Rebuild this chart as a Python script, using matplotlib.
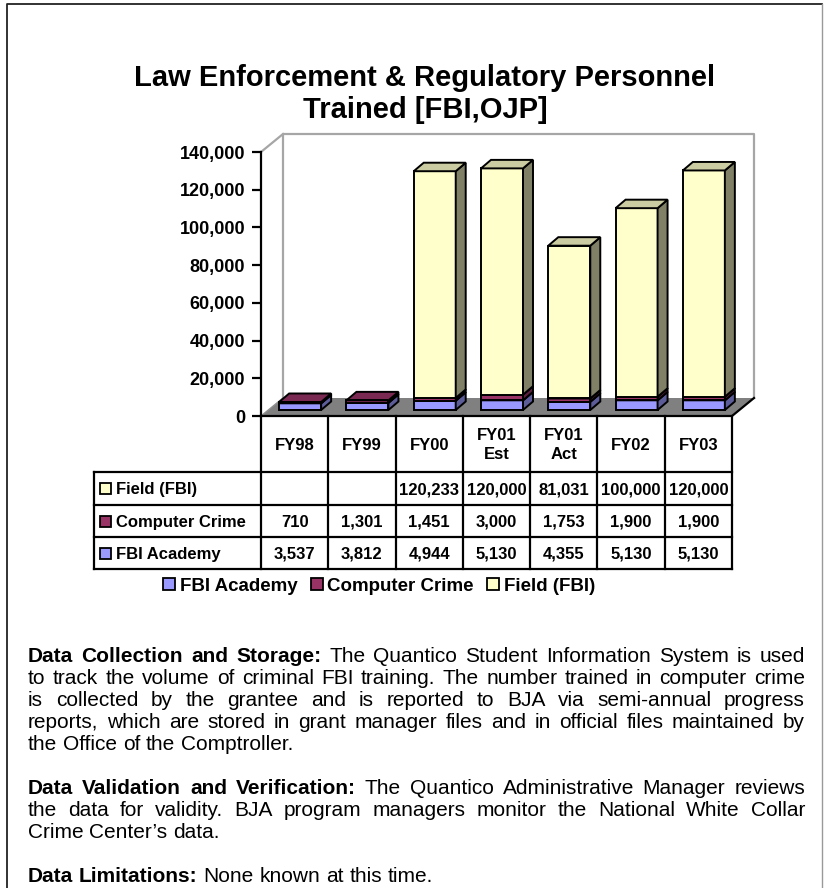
import matplotlib
matplotlib.use("Agg")
import matplotlib.pyplot as plt
import matplotlib.transforms as mtransforms
from matplotlib.patches import Polygon, Rectangle, Patch
from matplotlib.lines import Line2D

plt.rcParams['font.family'] = ['Liberation Sans', 'DejaVu Sans']

# ---------------- data ----------------
categories = ["FY98", "FY99", "FY00", "FY01\nEst", "FY01\nAct", "FY02", "FY03"]
fbi_academy = [3537, 3812, 4944, 5130, 4355, 5130, 5130]
computer_crime = [710, 1301, 1451, 3000, 1753, 1900, 1900]
field_fbi = [None, None, 120233, 120000, 81031, 100000, 120000]
series_names = ["FBI Academy", "Computer Crime", "Field (FBI)"]
y_ticks = [0, 20000, 40000, 60000, 80000, 100000, 120000, 140000]
title = "Law Enforcement & Regulatory Personnel\nTrained [FBI,OJP]"

para_lines = [
    [("Data Collection and Storage:", "The Quantico Student Information System is used"),
     ("", "to track the volume of criminal FBI training. The number trained in computer crime"),
     ("", "is collected by the grantee and is reported to BJA via semi-annual progress"),
     ("", "reports, which are stored in grant manager files and in official files maintained by"),
     ("", "the Office of the Comptroller.")],
    [("Data Validation and Verification:", "The Quantico Administrative Manager reviews"),
     ("", "the data for validity. BJA program managers monitor the National White Collar"),
     ("", "Crime Center\u2019s data.")],
    [("Data Limitations:", "None known at this time.")],
]

# ---------------- styles ----------------
front_colors = ["#9999FF", "#993366", "#FFFFCC"]
side_colors = ["#5C5C99", "#5C1F3D", "#808066"]
top_colors = ["#7A7ACC", "#7A2952", "#CCCCA3"]

W, H = 825, 888
fig = plt.figure(figsize=(W / 100, H / 100), dpi=100)
fig.patch.set_facecolor("white")
pix = mtransforms.Affine2D().scale(1.0 / W, -1.0 / H).translate(0, 1) + fig.transFigure

# front plane of the plot area in pixels
AX_L, AX_R, AX_T, AX_B = 261, 732, 152, 416
ax = fig.add_axes([AX_L / W, 1 - AX_B / H, (AX_R - AX_L) / W, (AX_B - AX_T) / H])
n = len(categories)
ax.set_xlim(-0.5, n - 0.5)
ax.set_ylim(0, y_ticks[-1])
ax.patch.set_alpha(0)
for s in ["top", "right", "bottom"]:
    ax.spines[s].set_visible(False)
ax.spines["left"].set_linewidth(1.6)
ax.spines["left"].set_zorder(20)
ax.set_xticks([])
ax.set_yticks(y_ticks)
ax.set_yticklabels([f"{v:,}" for v in y_ticks], fontsize=13, fontweight="bold")
ax.tick_params(axis="y", direction="out", length=6.5, width=1.6, pad=5)

cat_px = (AX_R - AX_L) / n
val_px = (AX_B - AX_T) / y_ticks[-1]
def dxd(p):
    return p / cat_px
def dyd(p):
    return p / val_px

# walls / floor
FDX, FDY = dxd(22), dyd(18)
ymax = y_ticks[-1]
wall_c = "#A6A6A6"
ax.add_patch(Polygon([(-0.5, 0), (n - 0.5, 0), (n - 0.5 + FDX, FDY), (-0.5 + FDX, FDY)],
                     closed=True, facecolor="#808080", edgecolor="none", clip_on=False, zorder=1))
ax.plot([-0.5 + FDX, -0.5 + FDX, n - 0.5 + FDX, n - 0.5 + FDX],
        [FDY, ymax + FDY, ymax + FDY, FDY], color=wall_c, lw=1.6, clip_on=False, zorder=0.5)
ax.plot([-0.5, -0.5 + FDX], [ymax, ymax + FDY], color=wall_c, lw=1.6, clip_on=False, zorder=0.5)
ax.plot([-0.5, -0.5 + FDX], [0, FDY], color="#909090", lw=1.0, clip_on=False, zorder=1.2)
ax.plot([-0.5, n - 0.5, n - 0.5 + FDX], [0, 0, FDY], color="black", lw=1.6,
        clip_on=False, zorder=1.5, solid_joinstyle="miter")

# bars
BW = dxd(42)
BOFF = dxd(5.5)
BASE = dyd(6)
BDX, BDY = dxd(10), dyd(8.5)
series_vals = [fbi_academy, computer_crime, field_fbi]
cum = [BASE] * n
xs = [i + BOFF for i in range(n)]
for si, vals in enumerate(series_vals):
    v = [0 if x is None else x for x in vals]
    z = 5 + si
    ax.bar(xs, v, bottom=cum, width=BW, color=front_colors[si], edgecolor="black",
           linewidth=1.4, zorder=z, clip_on=False)
    for i in range(n):
        if v[i] == 0:
            continue
        x0 = xs[i] - BW / 2
        x1 = xs[i] + BW / 2
        y0 = cum[i]
        y1 = cum[i] + v[i]
        ax.add_patch(Polygon([(x1, y0), (x1 + BDX, y0 + BDY), (x1 + BDX, y1 + BDY), (x1, y1)],
                             closed=True, facecolor=side_colors[si], edgecolor="black",
                             lw=1.4, zorder=z, clip_on=False, joinstyle="miter"))
        ax.add_patch(Polygon([(x0, y1), (x1, y1), (x1 + BDX, y1 + BDY), (x0 + BDX, y1 + BDY)],
                             closed=True, facecolor=top_colors[si], edgecolor="black",
                             lw=1.4, zorder=z, clip_on=False, joinstyle="miter"))
    cum = [c + a for c, a in zip(cum, v)]

# ---------------- data table ----------------
bx = mtransforms.blended_transform_factory(ax.transData, pix)
HDR_T, HDR_B = AX_B, 472
row_edges = [472, 505, 537, 569]
TBL_L = 94
tlw = 1.6
for i in range(n + 1):
    fig.add_artist(Line2D([i - 0.5, i - 0.5], [HDR_T, row_edges[-1]], transform=bx,
                          color="black", lw=tlw))
for y in row_edges:
    fig.add_artist(Line2D([TBL_L, AX_R], [y, y], transform=pix, color="black", lw=tlw))
fig.add_artist(Line2D([TBL_L, TBL_L], [row_edges[0], row_edges[-1]], transform=pix,
                      color="black", lw=tlw))
for i, c in enumerate(categories):
    fig.text(i, (HDR_T + HDR_B) / 2 + 1, c, transform=bx, ha="center", va="center",
             fontsize=12, fontweight="bold", linespacing=1.3)
table_rows = [(2, field_fbi), (1, computer_crime), (0, fbi_academy)]
for r, (si, vals) in enumerate(table_rows):
    yc = (row_edges[r] + row_edges[r + 1]) / 2
    fig.add_artist(Rectangle((100, yc - 5.5), 11, 11, transform=pix,
                             facecolor=front_colors[si], edgecolor="black", lw=1.3))
    fig.text(116, yc + 1, series_names[si], transform=pix, ha="left", va="center",
             fontsize=12, fontweight="bold")
    for i, v in enumerate(vals):
        if v is None:
            continue
        fig.text(i, yc + 1, f"{v:,}", transform=bx, ha="center", va="center",
                 fontsize=12, fontweight="bold")

# legend
handles = [Patch(facecolor=front_colors[i], edgecolor="black", lw=1.3) for i in range(3)]
fig.legend(handles, series_names, loc="center", bbox_to_anchor=(379 / W, 1 - 586 / H),
           ncol=3, frameon=False, prop={"size": 13.5, "weight": "bold"},
           handlelength=0.65, handleheight=0.65, handletextpad=0.25, columnspacing=0.7)

# title
fig.text(425, 94, title, transform=pix, ha="center", va="center", fontsize=21,
         fontweight="bold", linespacing=1.2)

# ---------------- justified paragraphs ----------------
renderer = fig.canvas.get_renderer()
FS = 15
def text_w(s, weight):
    t = fig.text(0, 0, s, fontsize=FS, fontweight=weight)
    w = t.get_window_extent(renderer).width
    t.remove()
    return w
space_w = text_w("a a", "normal") - text_w("aa", "normal")
TX_L, TX_R = 28, 805
line_h = 22
y = 654
for para in para_lines:
    for li, (bold, rest) in enumerate(para):
        toks = [(w, "bold") for w in bold.split()] + [(w, "normal") for w in rest.split()]
        widths = [text_w(w, wt) for w, wt in toks]
        last = li == len(para) - 1
        if last or len(toks) < 2:
            gap = space_w
        else:
            gap = (TX_R - TX_L - sum(widths)) / (len(toks) - 1)
        x = TX_L
        for (w, wt), ww in zip(toks, widths):
            fig.text(x, y + 7.5, w, transform=pix, ha="left", va="baseline",
                     fontsize=FS, fontweight=wt)
            x += ww + gap
        y += line_h
    y += line_h

# border
fig.add_artist(Line2D([7, 7, 822], [H, 4, 4], transform=pix, color="#222222", lw=1.3))
fig.add_artist(Line2D([822, 822], [4, H], transform=pix, color="#999999", lw=1.0))

fig.savefig("out.png", dpi=100)
